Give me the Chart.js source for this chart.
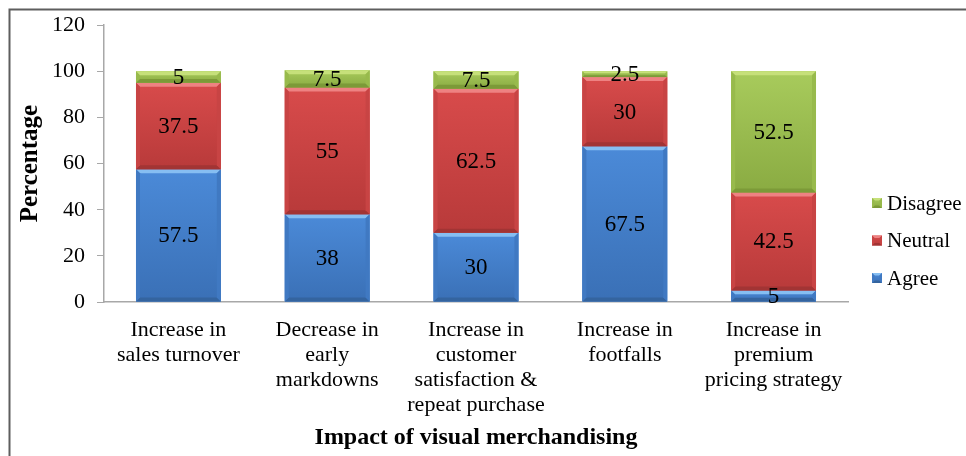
<!DOCTYPE html>
<html>
<head>
<meta charset="utf-8">
<title>Impact of visual merchandising</title>
<script src="https://cdn.jsdelivr.net/npm/chart.js@4"></script>
<style>
    html, body { margin: 0; padding: 0; background: #ffffff; overflow: hidden; }
    #chartBox { width: 966px; height: 456px; }
</style>
</head>
<body>
<div id="chartBox"><canvas id="vmChart"></canvas></div>
<script>

// survey data: impact of visual merchandising (percent of respondents)

const categories = [
    ["Increase in", "sales turnover"],
    ["Decrease in", "early", "markdowns"],
    ["Increase in", "customer", "satisfaction &", "repeat purchase"],
    ["Increase in", "footfalls"],
    ["Increase in", "premium", "pricing strategy"]
];

const agreeValues = [57.5, 38, 30, 67.5, 5];
const neutralValues = [37.5, 55, 62.5, 30, 42.5];
const disagreeValues = [5, 7.5, 7.5, 2.5, 52.5];

const yTicks = [0, 20, 40, 60, 80, 100, 120];

// colours for the bevelled bars: face top, face bottom, top edge, bottom edge, sides
const shades = {
    Agree:    ["#4b8ad8", "#3a70b6", "#86bef2", "#34649f", "#4079c2"],
    Neutral:  ["#d84b4b", "#b83a3a", "#ee8282", "#a23434", "#c84444"],
    Disagree: ["#a8cb5c", "#8aab42", "#c6e07a", "#7c9a38", "#98ba4c"]
};

const serif = "'Liberation Serif', 'Times New Roman', serif";

function bevelRect(ctx, left, top, right, bottom, c) {
    const h = bottom - top;
    const w = right - left;
    const b = Math.min(4, h / 3, w / 4);

    const face = ctx.createLinearGradient(0, top, 0, bottom);
    face.addColorStop(0, c[0]);
    face.addColorStop(1, c[1]);
    ctx.fillStyle = face;
    ctx.fillRect(left, top, w, h);

    // top edge
    ctx.fillStyle = c[2];
    ctx.beginPath();
    ctx.moveTo(left, top);
    ctx.lineTo(right, top);
    ctx.lineTo(right - b, top + b);
    ctx.lineTo(left + b, top + b);
    ctx.closePath();
    ctx.fill();

    // bottom edge
    ctx.fillStyle = c[3];
    ctx.beginPath();
    ctx.moveTo(left, bottom);
    ctx.lineTo(right, bottom);
    ctx.lineTo(right - b, bottom - b);
    ctx.lineTo(left + b, bottom - b);
    ctx.closePath();
    ctx.fill();

    // sides
    ctx.fillStyle = c[4];
    ctx.beginPath();
    ctx.moveTo(left, top);
    ctx.lineTo(left + b, top + b);
    ctx.lineTo(left + b, bottom - b);
    ctx.lineTo(left, bottom);
    ctx.closePath();
    ctx.fill();
    ctx.beginPath();
    ctx.moveTo(right, top);
    ctx.lineTo(right - b, top + b);
    ctx.lineTo(right - b, bottom - b);
    ctx.lineTo(right, bottom);
    ctx.closePath();
    ctx.fill();
}

// frame round the whole chart
const framePlugin = {
    id: "frame",
    beforeDraw(chart) {
        const ctx = chart.ctx;
        ctx.save();
        ctx.fillStyle = "#ffffff";
        ctx.fillRect(0, 0, chart.width, chart.height);
        ctx.strokeStyle = "#5e5e5e";
        ctx.lineWidth = 2;
        ctx.strokeRect(9.5, 9.5, 1000, 500);
        ctx.restore();
    }
};

// redraw each stacked segment with a bevel, then write its value in the middle
const bevelPlugin = {
    id: "bevel",
    afterDatasetsDraw(chart) {
        const ctx = chart.ctx;
        ctx.save();
        chart.data.datasets.forEach((ds, i) => {
            const meta = chart.getDatasetMeta(i);
            meta.data.forEach((bar) => {
                const p = bar.getProps(["x", "y", "base", "width"], true);
                const top = Math.min(p.y, p.base);
                const bottom = Math.max(p.y, p.base);
                bevelRect(ctx, p.x - p.width / 2, top, p.x + p.width / 2, bottom, shades[ds.label]);
            });
        });
        ctx.font = "23px " + serif;
        ctx.fillStyle = "#000000";
        ctx.textAlign = "center";
        ctx.textBaseline = "middle";
        chart.data.datasets.forEach((ds, i) => {
            const meta = chart.getDatasetMeta(i);
            meta.data.forEach((bar, j) => {
                const p = bar.getProps(["x", "y", "base"], true);
                ctx.fillText(String(ds.data[j]), p.x, (p.y + p.base) / 2 + 1);
            });
        });
        ctx.restore();
    }
};

// legend on the right, last series on top
const legendPlugin = {
    id: "sideLegend",
    afterDraw(chart) {
        const ctx = chart.ctx;
        const rows = chart.data.datasets.slice().reverse();
        ctx.save();
        ctx.font = "21px " + serif;
        ctx.textAlign = "left";
        ctx.textBaseline = "middle";
        rows.forEach((ds, k) => {
            const cy = 203 + k * 37.5;
            bevelRect(ctx, 872, cy - 5, 882, cy + 5, shades[ds.label]);
            ctx.fillStyle = "#000000";
            ctx.fillText(ds.label, 887, cy + 1);
        });
        ctx.restore();
    }
};

new Chart("vmChart", {
    type: "bar",
    data: {
        labels: categories,
        datasets: [
            { label: "Agree", data: agreeValues, backgroundColor: shades.Agree[0] },
            { label: "Neutral", data: neutralValues, backgroundColor: shades.Neutral[0] },
            { label: "Disagree", data: disagreeValues, backgroundColor: shades.Disagree[0] }
        ]
    },
    options: {
        responsive: true,
        maintainAspectRatio: false,
        animation: false,
        devicePixelRatio: 1,
        layout: {
            padding: { top: 24, right: 118, bottom: 4, left: 8 }
        },
        datasets: {
            bar: { categoryPercentage: 1, barPercentage: 0.57, borderWidth: 0 }
        },
        plugins: {
            legend: { display: false },
            tooltip: { enabled: false }
        },
        scales: {
            x: {
                stacked: true,
                grid: { display: false },
                border: { display: true, color: "#a8a8a8", width: 1.5 },
                ticks: {
                    color: "#000000",
                    padding: 8,
                    maxRotation: 0,
                    autoSkip: false,
                    font: { family: serif, size: 22, lineHeight: 1.13 }
                },
                title: {
                    display: true,
                    text: "Impact of visual merchandising",
                    color: "#000000",
                    padding: { top: 0, bottom: 0 },
                    font: { family: serif, size: 24, weight: "bold" }
                },
                afterFit(scale) { scale.height = 150; }
            },
            y: {
                stacked: true,
                min: 0,
                max: 120,
                afterBuildTicks(scale) {
                    scale.ticks = yTicks.map((v) => ({ value: v }));
                },
                grid: { drawOnChartArea: false, drawTicks: true, tickLength: 7, color: "#a8a8a8" },
                border: { display: true, color: "#a8a8a8", width: 1.5 },
                ticks: {
                    color: "#000000",
                    padding: 12,
                    font: { family: serif, size: 22 }
                },
                title: {
                    display: true,
                    text: "Percentage",
                    color: "#000000",
                    padding: { top: 8, bottom: 0 },
                    font: { family: serif, size: 25, weight: "bold" }
                },
                afterFit(scale) { scale.width = 96; }
            }
        }
    },
    plugins: [framePlugin, bevelPlugin, legendPlugin]
});

</script>
</body>
</html>
